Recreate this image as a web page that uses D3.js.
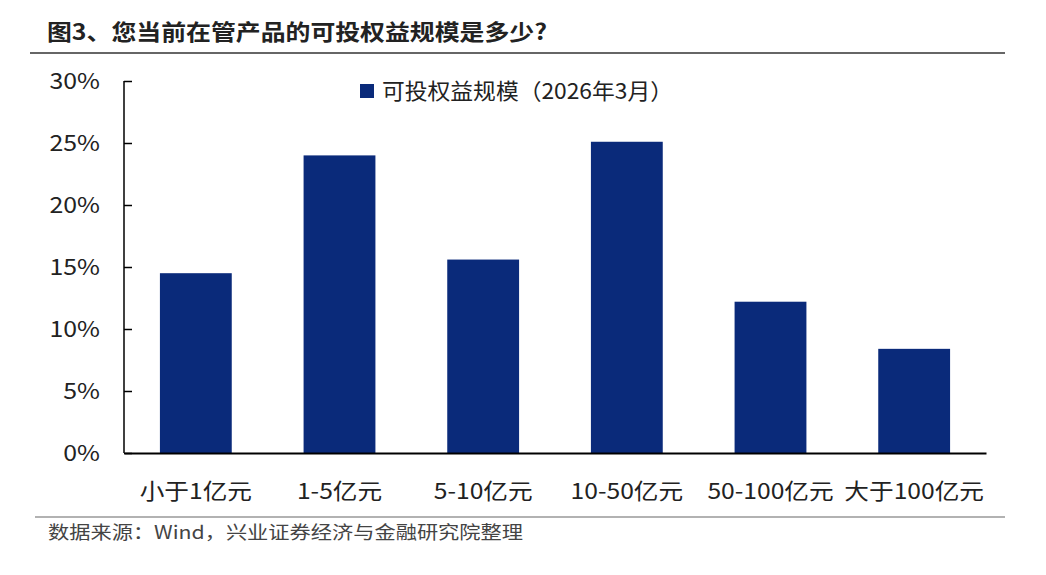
<!DOCTYPE html>
<html>
<head>
<meta charset="utf-8">
<script src="https://cdn.jsdelivr.net/npm/d3@7"></script>
<style>
  body { margin: 0; background: #fff; }
  text { font-family: "Noto Sans CJK SC", "Noto Sans", sans-serif; }
</style>
</head>
<body>
<div id="chart"></div>
<script>
// data
var categories = ["小于1亿元", "1-5亿元", "5-10亿元", "10-50亿元", "50-100亿元", "大于100亿元"];
var values = [14.5, 24.0, 15.6, 25.1, 12.2, 8.4];
var yTicks = [0, 5, 10, 15, 20, 25, 30];
var seriesName = "可投权益规模（2026年3月）";

var W = 1046, H = 575;
var margin = {top: 81, right: 60, bottom: 122, left: 124};
var width = W - margin.left - margin.right,
    height = H - margin.top - margin.bottom;

// the source picture is a bit wider than tall, so widen the text to match
function stretch(sel, k) {
  sel.each(function() {
    var w = this.getComputedTextLength();
    d3.select(this).attr("textLength", w * k).attr("lengthAdjust", "spacingAndGlyphs");
  });
}

var svg = d3.select("#chart").append("svg")
    .attr("width", W)
    .attr("height", H);

// title and rule under it
svg.append("text")
    .attr("x", 47).attr("y", 40)
    .attr("font-size", 22).attr("font-weight", "bold")
    .attr("fill", "#222")
    .text("图3、您当前在管产品的可投权益规模是多少?")
    .attr("textLength", 500).attr("lengthAdjust", "spacingAndGlyphs");
svg.append("line")
    .attr("x1", 30).attr("x2", 1005)
    .attr("y1", 53).attr("y2", 53)
    .attr("stroke", "#333").attr("stroke-width", 1.5);

var g = svg.append("g")
    .attr("transform", "translate(" + margin.left + "," + margin.top + ")");

var x = d3.scaleBand()
    .domain(categories)
    .range([0, width])
    .paddingInner(0.5)
    .paddingOuter(0.25);

var y = d3.scaleLinear()
    .domain([0, 30])
    .range([height, 0]);

// bars
g.selectAll("rect.bar")
  .data(values)
  .enter().append("rect")
    .attr("class", "bar")
    .attr("x", function(d, i) { return x(categories[i]); })
    .attr("width", x.bandwidth())
    .attr("y", function(d) { return y(d); })
    .attr("height", function(d) { return height - y(d); })
    .attr("fill", "#0a2a7a");

// Y axis, ticks pointing inward
var yAxis = g.append("g")
    .call(d3.axisRight(y).tickValues(yTicks).tickSize(8)
      .tickFormat(function(d) { return d + "%"; }));
yAxis.select(".domain").attr("stroke", "#000").attr("stroke-width", 1.5)
    .attr("d", "M0," + height + "V0");
yAxis.selectAll(".tick line").attr("stroke", "#000").attr("stroke-width", 1.5);
yAxis.selectAll(".tick text")
    .attr("x", -24).attr("text-anchor", "end")
    .attr("font-size", 22).attr("fill", "#222")
    .style("font-family", "'Noto Sans CJK SC', sans-serif")
    .call(stretch, 1.13);

// X axis
var xAxis = g.append("g")
    .attr("transform", "translate(0," + height + ")")
    .call(d3.axisBottom(x).tickSize(0).tickPadding(30));
xAxis.select(".domain").attr("stroke", "#000").attr("stroke-width", 2);
xAxis.selectAll(".tick text")
    .attr("font-size", 22).attr("fill", "#222")
    .style("font-family", "'Noto Sans CJK SC', sans-serif")
    .call(stretch, 1.12);

// legend
svg.append("rect")
    .attr("x", 360).attr("y", 84)
    .attr("width", 14).attr("height", 14)
    .attr("fill", "#0a2a7a");
svg.append("text")
    .attr("x", 382).attr("y", 99)
    .attr("font-size", 22).attr("fill", "#222")
    .text(seriesName)
    .attr("textLength", 291).attr("lengthAdjust", "spacingAndGlyphs");

// footer
svg.append("line")
    .attr("x1", 35).attr("x2", 1005)
    .attr("y1", 517).attr("y2", 517)
    .attr("stroke", "#999").attr("stroke-width", 1.5);
svg.append("text")
    .attr("x", 48).attr("y", 539)
    .attr("font-size", 18).attr("fill", "#444")
    .text("数据来源：Wind，兴业证券经济与金融研究院整理")
    .attr("textLength", 475).attr("lengthAdjust", "spacingAndGlyphs");
</script>
</body>
</html>
